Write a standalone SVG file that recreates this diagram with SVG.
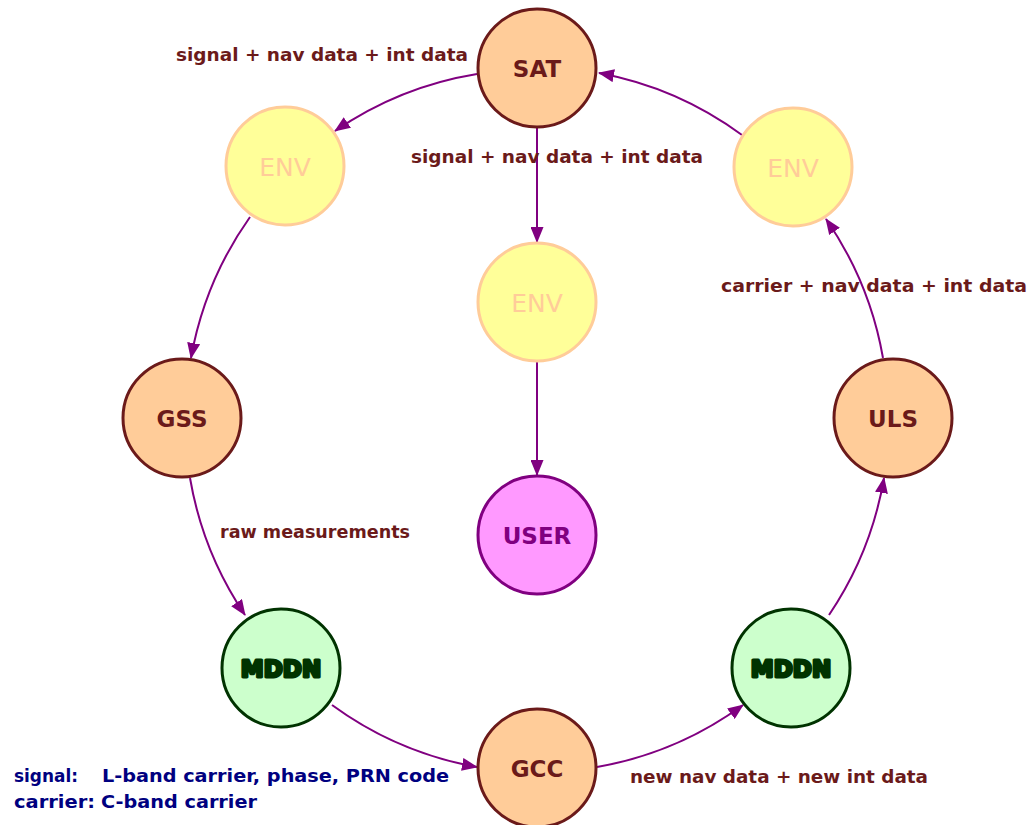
<svg xmlns="http://www.w3.org/2000/svg" width="1034" height="825" viewBox="0 0 1034 825">
  <defs>
    <marker id="arrow" markerUnits="userSpaceOnUse" markerWidth="16" markerHeight="13" refX="15" refY="6.5" orient="auto">
      <path d="M0,0 L16,6.5 L0,13 z" fill="#800080"/>
    </marker>
    <style>
      text { font-family: "DejaVu Sans", "Liberation Sans", sans-serif; }
      .node text { font-size: 23px; text-anchor: middle; dominant-baseline: central; }
      .edge { fill: none; stroke: #800080; stroke-width: 2; marker-end: url(#arrow); }
      .station circle { fill: #FFCC99; stroke: #6B1A1A; stroke-width: 3; }
      .station text { fill: #6B1A1A; font-weight: bold; }
      .env circle { fill: #FFFF99; stroke: #FFCC99; stroke-width: 3; }
      .node.env text { fill: #FFCC99; font-size: 25px; }
      .user circle { fill: #FF99FF; stroke: #800080; stroke-width: 3; }
      .user text { fill: #800080; font-weight: bold; }
      .mddn circle { fill: #CCFFCC; stroke: #003300; stroke-width: 3; }
      .mddn text { fill: #003300; stroke: #003300; stroke-width: 3; stroke-linejoin: round; font-weight: bold; }
      .label { fill: #6B1A1A; font-size: 18px; font-weight: bold; }
      .legend { fill: #000080; font-size: 18px; font-weight: bold; }
    </style>
  </defs>

  <!-- connectors: ring arcs share one circle around (537,418), r = 350 -->
  <g id="connectors">
    <path class="edge" d="M477,74 A350,350 0 0 0 335,131"/>
    <path class="edge" d="M250,217 A350,350 0 0 0 191,358"/>
    <path class="edge" d="M190,478 A350,350 0 0 0 245,615"/>
    <path class="edge" d="M332,705 A350,350 0 0 0 477,767"/>
    <path class="edge" d="M597,767 A350,350 0 0 0 743,705"/>
    <path class="edge" d="M829,615 A350,350 0 0 0 884,478"/>
    <path class="edge" d="M883,358 A350,350 0 0 0 826,219"/>
    <path class="edge" d="M742,135 A350,350 0 0 0 599,73"/>
    <path class="edge" d="M537,128 L537,242"/>
    <path class="edge" d="M537,362 L537,475"/>
  </g>

  <!-- nodes -->
  <g id="sat" class="node station"><circle cx="537" cy="68" r="59"/><text x="537" y="69">SAT</text></g>
  <g id="env-left" class="node env"><circle cx="285" cy="166" r="59"/><text x="285" y="167">ENV</text></g>
  <g id="env-center" class="node env"><circle cx="537" cy="302" r="59"/><text x="537" y="303">ENV</text></g>
  <g id="env-right" class="node env"><circle cx="793" cy="167" r="59"/><text x="793" y="168">ENV</text></g>
  <g id="gss" class="node station"><circle cx="182" cy="418" r="59"/><text x="182" y="419">GSS</text></g>
  <g id="user" class="node user"><circle cx="537" cy="535" r="59"/><text x="537" y="536">USER</text></g>
  <g id="uls" class="node station"><circle cx="893" cy="418" r="59"/><text x="893" y="419">ULS</text></g>
  <g id="mddn-left" class="node mddn"><circle cx="281" cy="668" r="59"/><text x="281" y="669">MDDN</text></g>
  <g id="mddn-right" class="node mddn"><circle cx="791" cy="668" r="59"/><text x="791" y="669">MDDN</text></g>
  <g id="gcc" class="node station"><circle cx="537" cy="768" r="59"/><text x="537" y="769">GCC</text></g>

  <!-- edge labels -->
  <g id="labels">
    <text class="label" x="176" y="61" textLength="292" lengthAdjust="spacingAndGlyphs">signal + nav data + int data</text>
    <text class="label" x="411" y="163" textLength="292" lengthAdjust="spacingAndGlyphs">signal + nav data + int data</text>
    <text class="label" x="721" y="292" textLength="306" lengthAdjust="spacingAndGlyphs">carrier + nav data + int data</text>
    <text class="label" x="220" y="538" textLength="190" lengthAdjust="spacingAndGlyphs">raw measurements</text>
    <text class="label" x="630" y="783" textLength="298" lengthAdjust="spacingAndGlyphs">new nav data + new int data</text>
  </g>

  <!-- legend -->
  <g id="legend">
    <text class="legend" x="14" y="782" textLength="64" lengthAdjust="spacingAndGlyphs">signal:</text>
    <text class="legend" x="102" y="782" textLength="347" lengthAdjust="spacingAndGlyphs">L-band carrier, phase, PRN code</text>
    <text class="legend" x="14" y="808" textLength="81" lengthAdjust="spacingAndGlyphs">carrier:</text>
    <text class="legend" x="101" y="808" textLength="156" lengthAdjust="spacingAndGlyphs">C-band carrier</text>
  </g>
</svg>
